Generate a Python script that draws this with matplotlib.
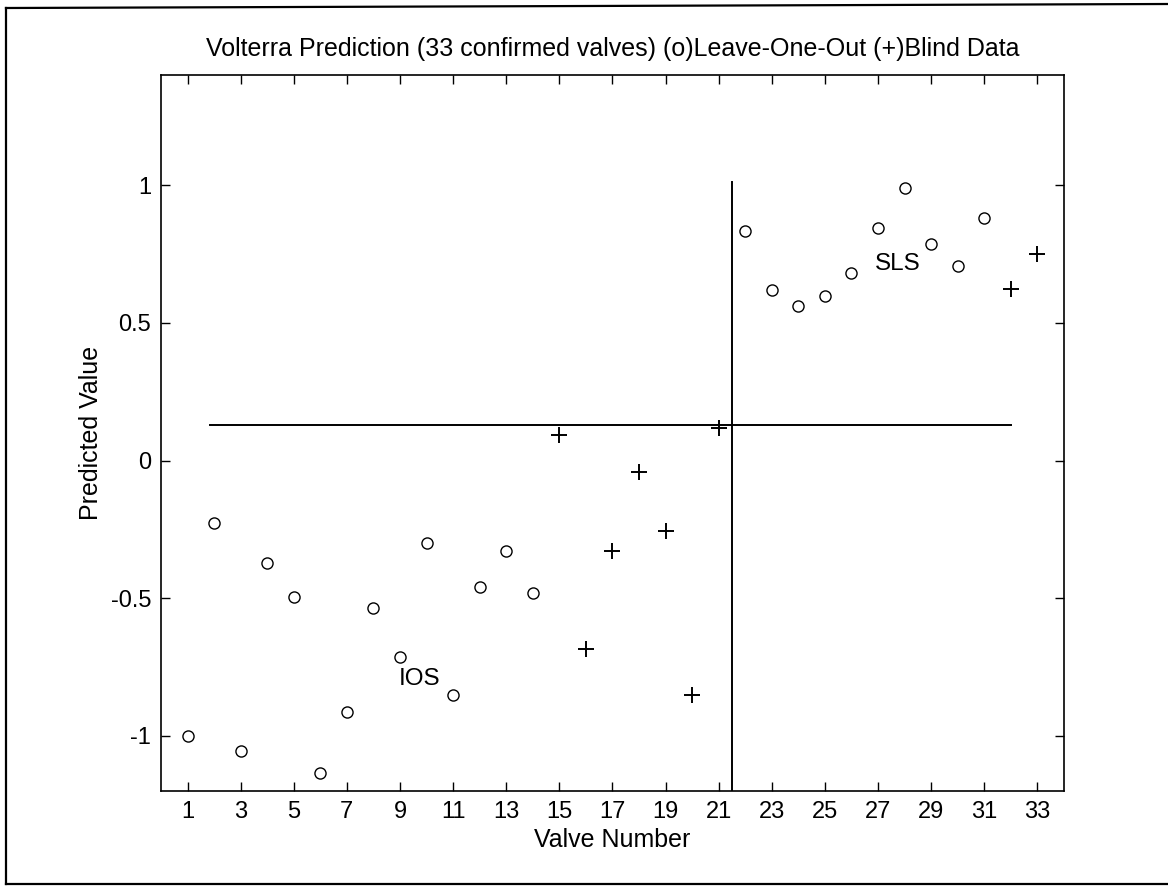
import matplotlib
matplotlib.use("Agg")
import matplotlib.pyplot as plt
from matplotlib.lines import Line2D

plt.rcParams['font.family'] = ['Liberation Sans', 'DejaVu Sans']

# Leave-one-out predictions (o)
loo_valves = [1, 2, 3, 4, 5, 6, 7, 8, 9, 10, 11, 12, 13, 14,
              22, 23, 24, 25, 26, 27, 28, 29, 30, 31]
loo_values = [-1.00, -0.225, -1.055, -0.373, -0.497, -1.134, -0.913, -0.536,
              -0.714, -0.30, -0.851, -0.46, -0.33, -0.482,
              0.833, 0.62, 0.562, 0.598, 0.681, 0.844, 0.989, 0.786, 0.707, 0.880]

# Blind data predictions (+)
blind_valves = [15, 16, 17, 18, 19, 20, 21, 32, 33]
blind_values = [0.094, -0.685, -0.33, -0.043, -0.254, -0.851, 0.12, 0.623, 0.75]

# Decision boundaries
threshold_y = 0.13
threshold_x_span = [1.85, 32.0]
split_x = 21.5
split_y_span = [-1.2, 1.01]

xticks = list(range(1, 34, 2))
yticks = [-1, -0.5, 0, 0.5, 1]
ytick_labels = ['-1', '-0.5', '0', '0.5', '1']

title = "Volterra Prediction (33 confirmed valves) (o)Leave-One-Out (+)Blind Data"

fig = plt.figure(figsize=(11.68, 8.86), dpi=100)
ax = fig.add_axes([0.1378, 0.1072, 0.7731, 0.8081])

ax.plot(loo_valves, loo_values, linestyle='none', marker='o', markersize=8,
        markerfacecolor='none', markeredgecolor='black', markeredgewidth=1.0)
ax.plot(blind_valves, blind_values, linestyle='none', marker='+', markersize=11,
        color='black', markeredgewidth=1.4)

ax.plot(threshold_x_span, [threshold_y, threshold_y], color='black', lw=1.4)
ax.plot([split_x, split_x], split_y_span, color='black', lw=1.4)

ax.text(9.75, -0.793, 'IOS', fontsize=17.5, ha='center', va='center')
ax.text(27.75, 0.714, 'SLS', fontsize=17.5, ha='center', va='center')

ax.set_xlim(0, 34)
ax.set_ylim(-1.2, 1.4)
ax.set_xticks(xticks)
ax.set_xticklabels([str(v) for v in xticks])
ax.set_yticks(yticks)
ax.set_yticklabels(ytick_labels)
ax.tick_params(direction='in', length=6.5, width=1.0, top=True, right=True,
               labelsize=17, pad=7, colors='black')
for s in ax.spines.values():
    s.set_linewidth(1.2)

ax.set_title(title, fontsize=18, pad=14)
ax.set_xlabel('Valve Number', fontsize=18)
ax.set_ylabel('Predicted Value', fontsize=18)
ax.xaxis.set_label_coords(0.5, -0.051)
ax.yaxis.set_label_coords(-0.064, 0.5)

# outer frame (left, top, bottom edges)
W, H = 1168.0, 886.0
fl = Line2D([6 / W, 6 / W], [1 - 8 / H, 1 - 884 / H], transform=fig.transFigure, color='black', lw=1.6)
ft = Line2D([6 / W, 1.0], [1 - 8 / H, 1 - 4 / H], transform=fig.transFigure, color='black', lw=1.6)
fb = Line2D([6 / W, 1.0], [1 - 884 / H, 1 - 884 / H], transform=fig.transFigure, color='black', lw=1.6)
fig.add_artist(fl)
fig.add_artist(ft)
fig.add_artist(fb)

fig.savefig('out.png', dpi=100)
